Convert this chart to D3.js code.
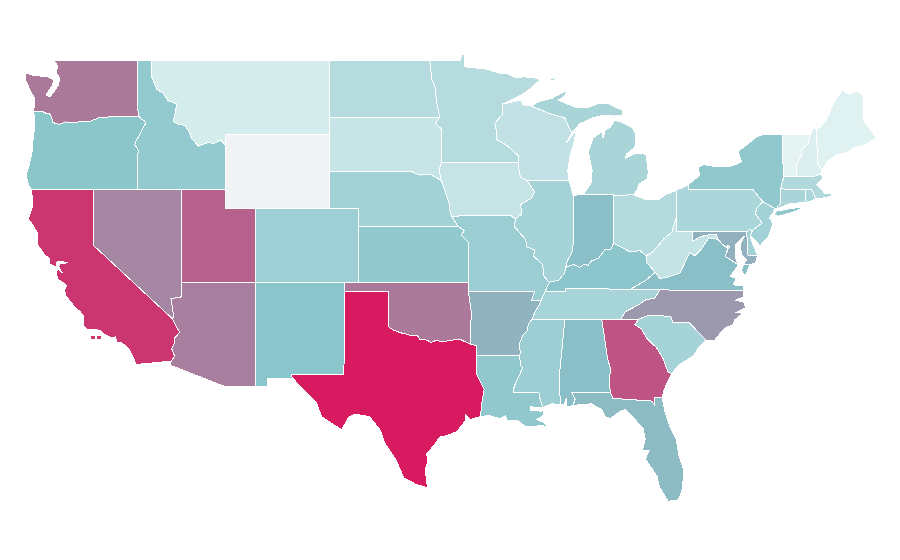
<!DOCTYPE html>
<html>
  <head>
    <meta charset="utf-8">
    <style>
      body { margin: 0; background: #fff; }
      .state { stroke: #fff; stroke-width: 1; shape-rendering: crispEdges; }
    </style>
  </head>
  <body>
    <div id="chart"></div>
    <script src="https://d3js.org/d3.v7.min.js"></script>
    <script>
      // borders shared by two states, lon/lat
      const columbia = [[-124.05,46.27],[-123.5,46.27],[-123.2,46.15],[-122.9,46.1],[-122.8,45.85],[-122.75,45.65],[-122.3,45.55],[-121.9,45.68],[-121.2,45.65],[-120.7,45.72],[-120.2,45.72],[-119.6,45.92],[-119.0,45.95],[-116.92,46.0]];
      const snake = [[-116.92,46.0],[-116.78,45.85],[-116.55,45.75],[-116.46,45.6],[-116.67,45.3],[-116.85,45.0],[-117.05,44.75],[-117.2,44.45],[-117.03,44.25],[-116.93,44.1],[-117.03,43.83],[-117.03,42]];
      const bitterroot = [[-116.05,49],[-116.05,48.13],[-115.7,47.45],[-115.3,47.25],[-114.95,46.85],[-114.35,46.65],[-114.45,46.2],[-114.6,45.7],[-114.2,45.55],[-113.8,45.5],[-113.45,45.05],[-113.35,44.8],[-112.9,44.37],[-112.3,44.55],[-111.8,44.53],[-111.4,44.7],[-111.05,44.43]];
      const colorado = [[-114.72,32.72],[-114.5,33.0],[-114.7,33.4],[-114.53,33.65],[-114.53,33.95],[-114.15,34.27],[-114.4,34.6],[-114.63,35.0]];
      const redRiver = [[-100,34.56],[-99.7,34.4],[-99.2,34.25],[-98.9,34.2],[-98.5,34.1],[-98.1,34.13],[-97.9,33.9],[-97.4,33.85],[-97.15,33.72],[-96.8,33.85],[-96.4,33.75],[-95.8,33.85],[-95.2,33.9],[-94.48,33.64]];
      const missouriNE = [[-96.45,42.5],[-96.1,41.7],[-95.9,41.2],[-95.85,40.7],[-95.77,40.58]];
      const missouriKS = [[-95.77,40.58],[-95.3,40],[-94.9,39.8],[-95.1,39.55],[-94.6,39.15]];
      const missMid = [[-91.45,40.4],[-91.5,40.0],[-90.75,39.3],[-90.65,38.9],[-90.15,38.75],[-90.2,38.4],[-89.6,37.95],[-89.5,37.3],[-89.15,37.0]];
      const missLow = [[-89.42,36.5],[-89.7,36.0],[-89.95,35.6],[-90.1,35.4],[-90.3,35.0]];
      const missDelta = [[-90.3,35.0],[-90.58,34.7],[-90.6,34.4],[-90.95,34.1],[-91.2,33.6],[-91.1,33.2],[-91.15,33.0]];
      const missDelta2 = [[-91.15,33.0],[-91.1,32.5],[-90.95,32.35],[-91.2,31.9],[-91.4,31.6],[-91.55,31.25],[-91.6,31.0]];
      const ohioIL = [[-89.15,37.0],[-88.5,37.1],[-88.1,37.5],[-88.05,37.8]];
      const wabash = [[-88.05,37.8],[-87.9,38.2],[-87.55,38.7],[-87.53,39.35],[-87.53,41.7]];
      const ohioIN = [[-88.05,37.8],[-87.5,37.95],[-87.1,37.8],[-86.8,37.95],[-86.5,37.92],[-86.3,38.15],[-85.8,38.3],[-85.4,38.75],[-85.0,38.75],[-84.8,39.1]];
      const ohioOH = [[-84.8,39.1],[-84.3,38.9],[-83.7,38.65],[-83.0,38.7],[-82.6,38.42]];
      const ohioWV = [[-82.6,38.42],[-82.2,38.6],[-81.75,39.0],[-81.4,39.35],[-80.85,39.7],[-80.52,40.64]];
      const bigSandy = [[-82.6,38.42],[-82.6,38.1],[-81.97,37.53]];
      const vaWV = [[-81.97,37.53],[-81.68,37.2],[-81.2,37.25],[-80.3,37.5],[-79.65,38.6],[-79.3,38.42],[-78.87,38.77],[-78.35,39.4],[-77.72,39.32]];
      const potomac = [[-77.72,39.32],[-77.5,39.1],[-77.05,38.8],[-77.25,38.4],[-76.95,38.25],[-76.36,37.93]];
      const mdWV = [[-79.48,39.72],[-79.48,39.2],[-78.95,39.45],[-78.45,39.55],[-77.85,39.6],[-77.72,39.32]];
      const savannah = [[-83.1,35],[-83.35,34.7],[-82.9,34.45],[-82.55,33.95],[-81.9,33.45],[-81.45,32.85],[-81.1,32.1],[-80.85,32.05]];
      const tnNC = [[-84.3,35],[-84.0,35.4],[-83.1,35.77],[-82.6,36.05],[-82.0,36.12],[-81.68,36.59]];
      const chatt = [[-85.6,35],[-85.2,32.85],[-85.0,32.3],[-85.1,31.6],[-85.0,31.0]];
      const delaware = [[-74.7,41.36],[-75.1,41.0],[-75.2,40.7],[-74.75,40.2],[-75.4,39.8]];
      const ctRiver = [[-72.45,42.73],[-72.4,43.4],[-72.05,43.9],[-72.05,44.2],[-71.6,44.5],[-71.5,45.01]];
      const rev = a => a.slice().reverse();

      const ringWA = [[[-122.66,49],[-122.39,48.71],[-122.53,48.39],[-122.26,48.06],[-122.39,47.63],[-122.93,47.03],[-123.2,47.14],[-122.79,47.63],[-122.66,47.95],[-123.06,48.12],[-124.1,48.22],[-124.62,48.33],[-124.6,48.0],[-124.28,47.4],[-124.0,47.0],[-123.95,46.75],...columbia,[-116.95,46.2],[-117.04,46.42],[-117.04,49]]];
      const ringOR = [[[-124.05,46.27],[-123.95,45.9],[-123.98,45.3],[-124.1,44.6],[-124.15,44.0],[-124.35,43.3],[-124.55,42.84],[-124.4,42.3],[-124.2,42.0],[-117.03,42],...rev(snake),...rev(columbia)]];
      const ringCA = [[[-124.2,42],[-124.1,41.5],[-124.15,41.0],[-124.4,40.44],[-124.1,40.1],[-123.8,39.7],[-123.75,39.0],[-123.3,38.5],[-122.95,38.25],[-123.0,38.0],[-122.5,37.82],[-122.45,38.1],[-122.1,38.1],[-121.7,38.05],[-122.25,38.0],[-122.35,37.85],[-122.1,37.5],[-122.4,37.7],[-122.5,37.5],[-122.4,37.15],[-122.0,36.95],[-121.8,36.8],[-121.95,36.6],[-121.85,36.25],[-121.3,35.7],[-120.9,35.4],[-120.65,35.15],[-120.65,34.6],[-120.45,34.45],[-119.6,34.4],[-119.2,34.15],[-118.8,34.0],[-118.5,34.03],[-118.4,33.75],[-118.1,33.73],[-117.6,33.4],[-117.25,32.85],[-117.12,32.53],...colorado,[-120,39],[-120,42]],
        [[-120.2,34.08],[-119.85,34.08],[-119.85,33.88],[-120.2,33.88]],[[-119.75,34.08],[-119.45,34.08],[-119.45,33.9],[-119.75,33.9]]];
      const ringNV = [[[-120,42],[-114.04,42],[-114.04,37],[-114.05,36.2],[-114.35,36.15],[-114.75,36.1],[-114.7,35.9],[-114.57,35.2],[-114.63,35],[-120,39]]];
      const ringID = [[[-117.04,49],...bitterroot,[-111.05,42],...rev(snake),[-116.95,46.2],[-117.04,46.42]]];
      const ringMT = [[[-116.05,49],[-104.05,49],[-104.05,45],[-111.05,45],...rev(bitterroot)]];
      const ringWY = [[[-111.05,45],[-104.05,45],[-104.05,41],[-111.05,41]]];
      const ringUT = [[[-114.04,42],[-111.05,42],[-111.05,41],[-109.05,41],[-109.05,37],[-114.04,37]]];
      const ringAZ = [[[-114.04,37],[-109.05,37],[-109.05,31.33],[-111.07,31.33],[-114.8,32.5],...colorado,[-114.57,35.2],[-114.7,35.9],[-114.75,36.1],[-114.35,36.15],[-114.05,36.2]]];
      const ringCO = [[[-109.05,41],[-102.05,41],[-102.05,37],[-109.05,37]]];
      const ringNM = [[[-109.05,37],[-103,37],[-103.04,32],[-106.62,32],[-106.53,31.78],[-108.21,31.78],[-108.21,31.33],[-109.05,31.33]]];
      const ringND = [[[-104.05,49],[-97.23,49],[-97.1,48],[-96.85,47.5],[-96.8,46.9],[-96.56,45.94],[-104.05,45.94]]];
      const ringSD = [[[-104.05,45.94],[-96.56,45.94],[-96.85,45.6],[-96.45,45.3],[-96.45,43.5],[-96.6,43.1],[-96.45,42.5],[-97.2,42.85],[-97.9,42.8],[-98.5,43],[-104.05,43]]];
      const ringNE = [[[-104.05,43],[-98.5,43],[-97.9,42.8],[-97.2,42.85],...missouriNE,[-95.3,40],[-102.05,40],[-102.05,41],[-104.05,41]]];
      const ringKS = [[[-102.05,40],[-95.3,40],[-94.9,39.8],[-95.1,39.55],[-94.6,39.15],[-94.62,37],[-102.05,37]]];
      const ringOK = [[[-103,37],[-94.62,37],[-94.62,36.5],[-94.43,35.4],...rev(redRiver),[-100,36.5],[-103,36.5]]];
      const ringTX = [[[-103,36.5],[-100,36.5],...redRiver,[-94.04,33.55],[-94.04,31.99],[-93.55,31.2],[-93.7,30.5],[-93.75,30.1],[-93.85,29.7],[-94.5,29.55],[-94.8,29.8],[-94.85,29.45],[-95.4,28.9],[-96.0,28.7],[-96.55,28.6],[-97.0,28.1],[-97.45,27.7],[-97.35,27.3],[-97.55,26.8],[-97.45,26.3],[-97.4,25.85],[-98.2,26.05],[-99.0,26.4],[-99.5,27.35],[-100.3,28.3],[-100.6,29.0],[-101.3,29.7],[-102.3,29.85],[-102.7,29.7],[-103.2,29.0],[-104.55,29.7],[-104.9,30.44],[-106,31.33],[-106.57,31.87],[-106.62,32],[-103.04,32]]];
      const ringMN = [[[-97.23,49],[-95.15,49],[-95.1,49.3],[-94.85,49.33],[-94.85,48.67],[-93.5,48.55],[-92.5,48.33],[-92,48.3],[-91.4,48.07],[-90.9,48.13],[-90,48.05],[-89.78,47.95],[-90.7,47.3],[-92,46.75],[-92.3,46.66],[-92.3,46.1],[-92.85,45.6],[-92.75,45.3],[-92.75,44.75],[-92,44.4],[-91.25,43.85],[-91.22,43.5],[-96.45,43.5],[-96.45,45.3],[-96.85,45.6],[-96.56,45.94],[-96.8,46.9],[-96.85,47.5],[-97.1,48]]];
      const ringIA = [[[-96.45,43.5],[-91.22,43.5],[-91.2,43.1],[-91.1,42.7],[-90.65,42.5],[-90.15,41.9],[-90.35,41.55],[-91.1,41.2],[-91,40.7],[-91.45,40.4],[-91.73,40.6],[-95.77,40.58],...rev(missouriNE),[-96.6,43.1]]];
      const ringMO = [[...missouriKS,[-94.62,37],[-94.62,36.5],[-90.15,36.5],[-90.35,36],[-89.7,36],[-89.42,36.5],...rev(missMid),[-91.73,40.6]]];
      const ringAR = [[[-94.62,36.5],[-90.15,36.5],[-90.35,36],[-89.7,36],...missLow.slice(2),...missDelta.slice(1),[-94.04,33],[-94.04,33.55],[-94.48,33.64],[-94.43,35.4]]];
      const ringLA = [[[-94.04,33],...missDelta2,[-89.85,31],[-89.75,30.6],[-89.57,30.2],[-89.75,30.18],[-90.45,30.25],[-90.45,30.05],[-89.66,30],[-89.55,30.05],[-89.5,29.8],[-90,29.55],[-89.5,29.4],[-89.2,29.05],[-89.6,29.25],[-90,29.2],[-90.8,29.2],[-91.3,29.5],[-92,29.5],[-92.1,29.75],[-92.5,29.6],[-93.2,29.77],[-93.85,29.7],[-93.75,30.1],[-93.7,30.5],[-93.55,31.2],[-94.04,31.99]]];
      const ringWI = [[[-92.3,46.66],[-92,46.7],[-91.1,46.87],[-90.9,46.6],[-90.4,46.55],[-89.1,46.13],[-88.1,45.9],[-87.8,45.35],[-87.6,45.1],[-88,44.55],[-87.55,45.0],[-87.3,45.3],[-87.5,44.5],[-87.75,43.8],[-87.9,43],[-87.8,42.5],[-90.65,42.5],[-91.1,42.7],[-91.2,43.1],[-91.22,43.5],[-91.25,43.85],[-92,44.4],[-92.75,44.75],[-92.75,45.3],[-92.85,45.6],[-92.3,46.1]]];
      const ringMI = [[[-90.4,46.55],[-89.8,46.8],[-89,46.95],[-88.56,47.14],[-87.9,47.4],[-88.2,47.0],[-88.56,46.87],[-87.27,46.44],[-86.6,46.45],[-85.8,46.68],[-85.24,46.7],[-84.6,46.45],[-84.2,46.33],[-84.17,46.06],[-84.7,46],[-85.5,46.05],[-86.2,45.9],[-86.7,45.7],[-87.07,45.6],[-87.6,45.1],[-87.8,45.35],[-88.1,45.9],[-89.1,46.13]],
        [[-86.82,41.76],[-84.8,41.76],[-84.8,41.7],[-83.45,41.73],[-83.2,42],[-83.1,42.3],[-82.5,42.6],[-82.45,43],[-82.6,43.9],[-82.87,44],[-83.4,43.95],[-84,43.7],[-83.9,43.95],[-83.35,44.3],[-83.3,45],[-83.5,45.35],[-84.2,45.65],[-84.75,45.78],[-85,45.4],[-85.35,45.25],[-85.5,44.8],[-85.6,45.15],[-86.2,44.8],[-86.5,44.05],[-86.25,43.05],[-86.3,42.4]],
        [[-89.2,47.95],[-88.5,48.18],[-88.9,47.9]]];
      const ringIL = [[[-87.8,42.5],[-90.65,42.5],[-90.15,41.9],[-90.35,41.55],[-91.1,41.2],[-91,40.7],...missMid,...ohioIL,...wabash]];
      const ringIN = [[...rev(wabash),...ohioIN,[-84.8,41.76],[-86.82,41.76]]];
      const ringOH = [[[-84.8,41.7],[-83.45,41.73],[-82.7,41.5],[-81.7,41.5],[-81.25,41.75],[-80.52,41.98],...rev(ohioWV),...rev(ohioOH)]];
      const ringKY = [[[-89.42,36.5],[-89.15,37],...ohioIL.slice(1),...ohioIN.slice(1),...ohioOH.slice(1),...bigSandy.slice(1),[-82.7,37.05],[-83.68,36.6],[-88.07,36.68],[-88.07,36.5]]];
      const ringTN = [[[-83.68,36.6],[-81.68,36.59],...rev(tnNC).slice(1),[-85.6,35],[-88.2,35],...rev(missLow),[-88.07,36.5],[-88.07,36.68]]];
      const ringMS = [[...missDelta,...missDelta2.slice(1),[-89.85,31],[-89.75,30.6],[-89.57,30.2],[-89,30.4],[-88.4,30.37],[-88.47,31.9],[-88.1,34.9],[-88.2,35]]];
      const ringAL = [[[-88.2,35],...chatt,[-87.6,31],[-87.4,30.65],[-87.55,30.3],[-88,30.25],[-88,30.7],[-88.15,30.35],[-88.4,30.37],[-88.47,31.9],[-88.1,34.9]]];
      const ringGA = [[[-85.6,35],...savannah,[-81.2,31.5],[-81.4,31.1],[-81.5,30.73],[-82.05,30.75],[-82.05,30.37],[-82.2,30.55],[-84.85,30.7],[-85,31],[-85.1,31.6],[-85,32.3],[-85.2,32.85]]];
      const ringFL = [[[-87.6,31],[-85,31],[-84.85,30.7],[-82.2,30.55],[-82.05,30.37],[-82.05,30.75],[-81.5,30.73],[-81.3,29.9],[-80.9,29],[-80.55,28.45],[-80.35,27.5],[-80.03,26.8],[-80.15,25.75],[-80.4,25.2],[-81.1,25.12],[-81.7,25.9],[-81.85,26.45],[-82.2,26.9],[-82.65,27.4],[-82.4,27.85],[-82.85,27.85],[-82.65,28.5],[-82.8,29.05],[-83.4,29.6],[-84,30.1],[-84.35,30],[-85,29.6],[-85.35,29.7],[-85.6,30.1],[-86.3,30.4],[-87.2,30.35],[-87.55,30.3],[-87.4,30.65]]];
      const ringSC = [[[-83.1,35],[-82.4,35.2],[-81.05,35.15],[-80.9,35.1],[-80.8,34.82],[-79.67,34.8],[-78.55,33.85],[-79,33.5],[-79.4,33],[-80.4,32.5],[-80.85,32.05],...rev(savannah).slice(1)]];
      const ringNC = [[[-81.68,36.59],[-80.3,36.55],[-76.02,36.52],[-76,36.2],[-76.6,36],[-76,35.95],[-75.85,35.6],[-76.5,35.35],[-76.05,35.3],[-76.6,34.95],[-76.7,34.7],[-77.3,34.5],[-77.95,33.85],[-78.55,33.85],[-79.67,34.8],[-80.8,34.82],[-80.9,35.1],[-81.05,35.15],[-82.4,35.2],[-83.1,35],...tnNC]];
      const ringVA = [[[-83.68,36.6],[-81.68,36.59],[-80.3,36.55],[-76.02,36.52],[-76.02,36.8],[-76.7,36.85],[-76.5,37.2],[-76.9,37.3],...rev(potomac),...rev(vaWV).slice(1),[-82.7,37.05]],
        [[-76,37.95],[-75.57,37.93],[-75.9,37.3],[-76.13,37.65]]];
      const ringWV = [[[-80.52,40.64],[-80.52,39.72],...mdWV,...rev(vaWV),...rev(bigSandy).slice(1),...ohioWV.slice(1,-1)]];
      const ringMD = [[[-79.48,39.72],[-75.79,39.72],[-75.7,38.46],[-75.05,38.45],[-75.2,38.05],[-75.57,37.93],[-76,37.95],[-75.8,38.2],[-76.13,38.47],[-76.24,39],[-75.95,39.5],[-76.58,39],[-76.58,38.38],...rev(potomac),...rev(mdWV).slice(0,-1)]];
      const ringDE = [[[-75.79,39.72],[-75.6,39.84],[-75.4,39.8],[-75.55,39.5],[-75.4,39.1],[-75.05,38.45],[-75.7,38.46]]];
      const ringDC = [[[-77.12,38.93],[-77.04,39],[-76.91,38.9],[-77.04,38.79]]];
      const ringPA = [[[-80.52,41.98],[-80.52,39.72],[-75.79,39.72],[-75.6,39.84],[-75.4,39.8],...rev(delaware).slice(1),[-75.35,42],[-79.76,42],[-79.76,42.27]]];
      const ringNJ = [[...delaware,[-75.55,39.5],[-75.1,39.2],[-74.9,38.95],[-74.3,39.5],[-74,40.2],[-74.25,40.5],[-74,40.75],[-73.9,41]]];
      const ringNY = [[[-79.76,42.27],[-79.76,42],[-75.35,42],[-74.7,41.36],[-73.9,41],[-73.65,41],[-73.73,41.1],[-73.5,41.25],[-73.5,42.05],[-73.27,42.75],[-73.35,43.6],[-73.4,44],[-73.34,45.01],[-74.7,45],[-75.1,44.88],[-76.38,44.07],[-76.13,43.53],[-76.75,43.3],[-77.73,43.24],[-78.7,43.37],[-79.1,43.2],[-78.95,42.8]],
        [[-74,40.6],[-73.75,40.85],[-72.7,41],[-71.9,41.07],[-72.5,40.83],[-73.6,40.58]]];
      const ringVT = [[[-73.34,45.01],[-71.5,45.01],...rev(ctRiver).slice(1),[-73.27,42.75],[-73.35,43.6],[-73.4,44]]];
      const ringNH = [[[-71.5,45.01],[-71.3,45.3],[-71.08,45.3],[-70.98,43.4],[-70.72,43.07],[-70.82,42.87],[-71.3,42.7],...ctRiver]];
      const ringME = [[[-71.08,45.3],[-70.8,45.4],[-70.4,45.8],[-69.8,46.87],[-69.3,47.41],[-68.9,47.18],[-68.3,47.35],[-67.92,47.14],[-67.92,45.8],[-67.45,45.3],[-67,44.8],[-67.9,44.4],[-68.5,44.3],[-69.1,44],[-69.7,43.9],[-70.25,43.6],[-70.72,43.07],[-70.98,43.4]]];
      const ringMA = [[[-73.27,42.75],[-71.3,42.7],[-70.82,42.87],[-70.6,42.65],[-71.05,42.3],[-70.65,41.95],[-70.5,41.78],[-70,41.8],[-70.05,41.65],[-70.65,41.55],[-71.12,41.5],[-71.2,41.67],[-71.38,42.02],[-71.8,42.02],[-73.5,42.05]]];
      const ringRI = [[[-71.8,42.02],[-71.38,42.02],[-71.2,41.67],[-71.12,41.5],[-71.5,41.37],[-71.85,41.32]]];
      const ringCT = [[[-73.5,42.05],[-71.8,42.02],[-71.85,41.32],[-72.9,41.25],[-73.65,41],[-73.73,41.1],[-73.5,41.25]]];

      const stateRings = [ringWA,ringOR,ringCA,ringNV,ringID,ringMT,ringWY,ringUT,ringAZ,ringCO,ringNM,ringND,ringSD,ringNE,ringKS,ringOK,ringTX,ringMN,ringIA,ringMO,ringAR,ringLA,ringWI,ringMI,ringIL,ringIN,ringOH,ringKY,ringTN,ringMS,ringAL,ringGA,ringFL,ringSC,ringNC,ringVA,ringWV,ringMD,ringDE,ringDC,ringPA,ringNJ,ringNY,ringVT,ringNH,ringME,ringMA,ringRI,ringCT];
      const stateNames = ["WA","OR","CA","NV","ID","MT","WY","UT","AZ","CO","NM","ND","SD","NE","KS","OK","TX","MN","IA","MO","AR","LA","WI","MI","IL","IN","OH","KY","TN","MS","AL","GA","FL","SC","NC","VA","WV","MD","DE","DC","PA","NJ","NY","VT","NH","ME","MA","RI","CT"];
      // 0 to 100
      const stateValues = [72,48.6,92,68,44.8,13.7,0,79,70.4,40,49,28.8,20.3,37.3,45.3,72,100,28.8,21,41,55,46,23,34.4,36,51.5,29.7,48,35.4,40.6,51.5,83,52.7,35.8,62.7,51.5,21.7,56,37.3,21,33.5,37.3,46,6.6,10.4,9,31,33.5,34.4];

      const width = 900,
            height = 560;

      const x = d3.scaleLinear().domain([-120, -67]).range([93.3, 876.6]);
      const y = d3.scaleLinear().domain([49, 25]).range([60.7, 503.5]);
      const color = d3.scaleLinear().domain([0, 5, 50, 100]).range(["#f2f3f5", "#e8f5f5", "#88c4ca", "#d81b60"]);

      const ring = d3.line().x(d => x(d[0])).y(d => y(d[1]));

      const svg = d3.select("#chart").append("svg")
          .attr("width", width)
          .attr("height", height)
          .style("display", "block");

      svg.selectAll("path")
          .data(stateNames)
        .join("path")
          .attr("class", "state")
          .attr("d", (d, i) => stateRings[i].map(r => ring(r) + "Z").join(""))
          .attr("fill", (d, i) => color(stateValues[i]));
    </script>
  </body>
</html>
